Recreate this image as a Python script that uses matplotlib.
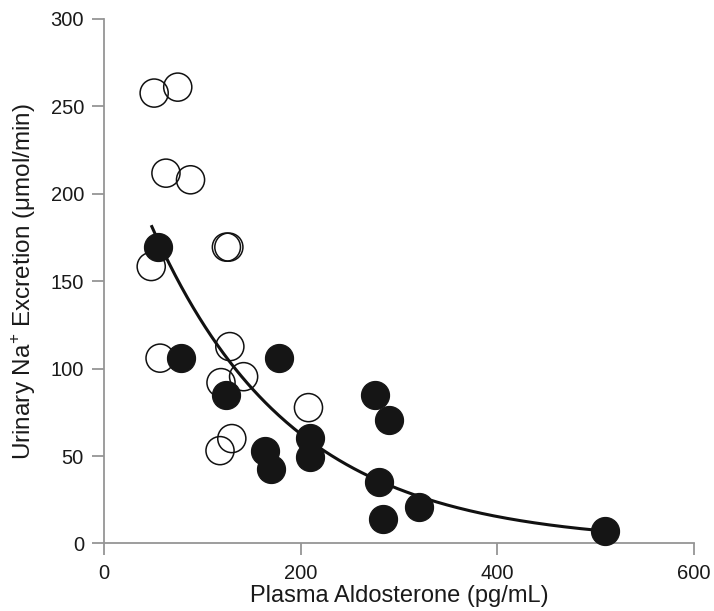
#!/usr/bin/env python3
"""Urinary sodium excretion against plasma aldosterone, with exponential fit."""

import matplotlib

matplotlib.use("Agg")
import matplotlib.pyplot as plt
import numpy as np

# open circles
open_aldo = [51, 75, 63, 88, 124.5, 127, 48, 57, 128, 119, 142, 208, 130, 118]
open_na = [257.6, 261.0, 211.8, 208.0, 169.5, 169.5, 158.4, 106.0, 112.6, 92.0, 95.4, 77.7, 60.0, 53.1]

# filled circles
filled_aldo = [55, 78, 124, 178, 164, 170, 210, 210, 276, 290, 280, 284, 320, 510]
filled_na = [169.5, 106.0, 84.8, 106.0, 53.1, 42.4, 60.2, 49.7, 84.8, 70.7, 35.4, 14.2, 21.0, 7.2]

# points along the fitted curve
curve_aldo = [48, 72, 115, 148, 199, 250, 335, 400, 457, 497]
curve_na = [179, 151, 115, 89, 64, 45, 25, 15.7, 10.6, 7.3]

x_ticks = [0, 200, 400, 600]
y_ticks = [0, 50, 100, 150, 200, 250, 300]

plt.rcParams["font.family"] = ["Liberation Sans", "DejaVu Sans"]
plt.rcParams["mathtext.fontset"] = "custom"
plt.rcParams["mathtext.rm"] = "Liberation Sans"

fig = plt.figure(figsize=(7.14, 6.11), dpi=100)
ax = fig.add_axes([0.1457, 0.1105, 0.826, 0.8585])

# exponential fit y = A * exp(-k x) through the curve points
slope, intercept = np.polyfit(curve_aldo, np.log(curve_na), 1)
xs = np.linspace(min(curve_aldo), 505, 300)
ax.plot(xs, np.exp(intercept + slope * xs), color="#111111", lw=2.2, zorder=2, solid_capstyle="butt")

ax.scatter(open_aldo, open_na, s=410, facecolors="none", edgecolors="#111111", linewidths=1.1, zorder=3)
ax.scatter(filled_aldo, filled_na, s=410, color="#151515", edgecolors="#151515", linewidths=0.8, zorder=4)

ax.set_xlim(0, 600)
ax.set_ylim(0, 300)
ax.set_xticks(x_ticks)
ax.set_yticks(y_ticks)
for side in ("top", "right"):
    ax.spines[side].set_visible(False)
for side in ("left", "bottom"):
    ax.spines[side].set_color("#959595")
    ax.spines[side].set_linewidth(1.3)
ax.tick_params(direction="out", length=8.5, width=1.3, color="#959595", labelsize=14.5, labelcolor="#1a1a1a", pad=6)

ax.set_xlabel("Plasma Aldosterone (pg/mL)", fontsize=17, color="#1a1a1a", labelpad=2)
ax.set_ylabel(r"Urinary Na$^{+}$ Excretion (μmol/min)", fontsize=17.5, color="#1a1a1a", labelpad=9)

for artist in ax.collections:
    artist.set_clip_on(False)

fig.savefig("out.png", dpi=100)
